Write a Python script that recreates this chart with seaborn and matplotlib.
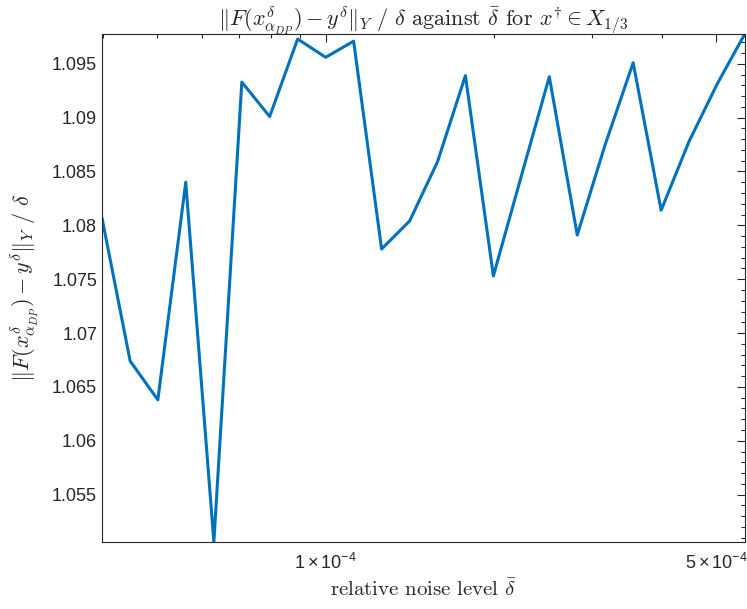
import matplotlib
matplotlib.use('Agg')
import matplotlib.pyplot as plt
import matplotlib.ticker as mticker
import seaborn as sns
import pandas as pd

# relative noise levels (log-spaced)
noise_level = [3.98e-5, 4.47e-5, 5.01e-5, 5.62e-5, 6.31e-5, 7.08e-5, 7.94e-5, 8.91e-5,
               1.000e-4, 1.122e-4, 1.259e-4, 1.413e-4, 1.585e-4, 1.778e-4, 1.995e-4,
               2.239e-4, 2.512e-4, 2.818e-4, 3.162e-4, 3.548e-4, 3.981e-4, 4.467e-4,
               5.012e-4, 5.623e-4]
# ||F(x) - y|| / delta
residual_ratio = [1.0807, 1.0674, 1.0638, 1.0840, 1.0506, 1.0933, 1.0901, 1.0973,
                  1.0956, 1.0971, 1.0778, 1.0804, 1.0859, 1.0939, 1.0753, 1.0846,
                  1.0938, 1.0791, 1.0875, 1.0951, 1.0814, 1.0878, 1.0931, 1.0978]

x_ticks = [1e-4, 5e-4]
x_ticklabels = [r'$1\times10^{-4}$', r'$5\times10^{-4}$']
y_ticks = [1.055, 1.06, 1.065, 1.07, 1.075, 1.08, 1.085, 1.09, 1.095]

sns.set_theme(style='white')
plt.rcParams['font.family'] = ['Liberation Sans', 'DejaVu Sans']
plt.rcParams['mathtext.fontset'] = 'custom'
plt.rcParams['mathtext.rm'] = 'Liberation Sans'
plt.rcParams['mathtext.it'] = 'Liberation Sans'

df = pd.DataFrame({'delta': noise_level, 'ratio': residual_ratio})

fig = plt.figure(figsize=(7.47, 6.09), dpi=100)
ax = fig.add_axes([0.1365, 0.110, 0.8608, 0.8348])

sns.lineplot(data=df, x='delta', y='ratio', ax=ax, color='#0072BD',
             linewidth=2.2, sort=False)

ax.set_xscale('log')
ax.set_xlim(min(noise_level), max(noise_level))
ax.set_ylim(min(residual_ratio), max(residual_ratio))

ax.set_xticks(x_ticks)
ax.set_xticklabels(x_ticklabels)
ax.xaxis.set_minor_locator(mticker.LogLocator(base=10, subs=range(2, 10)))
ax.xaxis.set_minor_formatter(mticker.NullFormatter())
ax.set_yticks(y_ticks)
ax.set_yticklabels([f'{v:g}' for v in y_ticks])
ax.yaxis.set_minor_locator(mticker.MultipleLocator(0.001))

edge = '#262626'
for sp in ax.spines.values():
    sp.set_color(edge)
    sp.set_linewidth(0.8)
ax.tick_params(which='both', direction='in', top=True, right=True,
               color=edge, width=0.8, labelsize=13, labelcolor='#262626')
ax.tick_params(which='major', length=6)
ax.tick_params(which='minor', length=3)
ax.tick_params(axis='x', pad=8)

ax.set_xlabel(r'relative noise level $\bar{\delta}$', fontsize=15,
              family='cmr10', math_fontfamily='cm', labelpad=4)
ax.set_ylabel(r'$\Vert F(x^{\delta}_{\alpha_{DP}}) - y^{\delta}\Vert_Y\ /\ \delta$',
              fontsize=16, math_fontfamily='cm', labelpad=8)
ax.set_title(r'$\Vert F(x^{\delta}_{\alpha_{DP}}) - y^{\delta}\Vert_Y\ /\ \delta$ against '
             r'$\bar{\delta}$ for $x^{\dagger} \in X_{1/3}$',
             fontsize=16, family='cmr10', math_fontfamily='cm', pad=5)
ax.grid(False)

fig.savefig('out.png', dpi=100, facecolor='white')
